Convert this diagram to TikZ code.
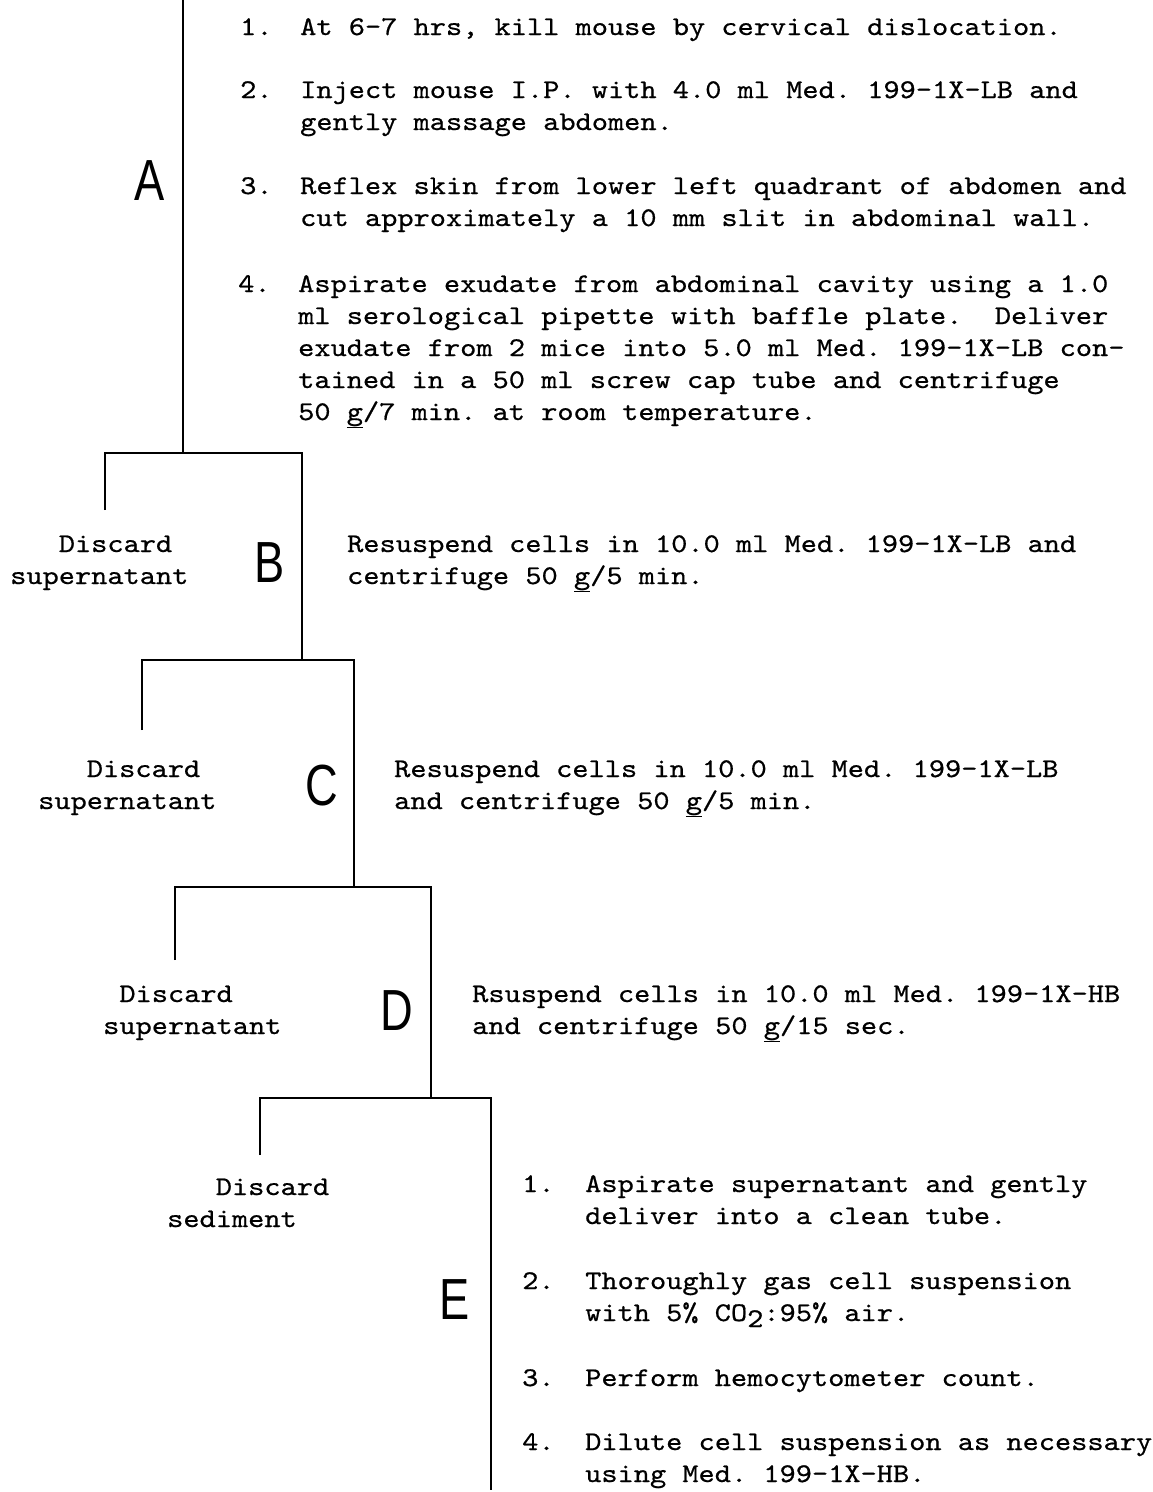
\documentclass[tikz,border=0pt]{standalone}
\usepackage{fontspec}
\newfontfamily\tw{lmmono10-regular.otf}[FakeStretch=1.143,FakeBold=0.6]
\newfontfamily\lab{Liberation Sans}[FakeStretch=0.78]
\newcommand\ml[1]{\begin{tabular}[t]{@{}l@{}}#1\end{tabular}}
\tikzset{
  txt/.style={font={\tw\fontsize{27}{32}\selectfont\frenchspacing}, inner sep=0pt, anchor=base west},
  letter/.style={font={\lab\fontsize{58}{58}\selectfont}, inner sep=0pt},
  branch/.style={line width=2.8pt, line join=miter, line cap=butt}
}
\begin{document}
\begin{tikzpicture}[x=1pt,y=-1pt]
\useasboundingbox (0,0) rectangle (1153,1492);
\fill[white] (0,0) rectangle (1153,1492);

% tree coordinates
\coordinate (top) at (183,0);
\coordinate (j1) at (183,453);
\coordinate (l1) at (105,453);
\coordinate (l1e) at (105,510);
\coordinate (r1) at (302,453);
\coordinate (j2) at (302,660);
\coordinate (l2) at (142,660);
\coordinate (l2e) at (142,730);
\coordinate (r2) at (354,660);
\coordinate (j3) at (354,887);
\coordinate (l3) at (175,887);
\coordinate (l3e) at (175,960);
\coordinate (r3) at (431,887);
\coordinate (j4) at (431,1098);
\coordinate (l4) at (260,1098);
\coordinate (l4e) at (260,1155);
\coordinate (r4) at (491,1098);
\coordinate (r4e) at (491,1490);

\draw[branch] (top) -- (j1);
\draw[branch] (l1e) -- (l1) -- (r1) -- (j2);
\draw[branch] (l2e) -- (l2) -- (r2) -- (j3);
\draw[branch] (l3e) -- (l3) -- (r3) -- (j4);
\draw[branch] (l4e) -- (l4) -- (r4) -- (r4e);

% stage letters
\node[letter] (la) at (150,181) {A};
\node[letter] (lb) at (270,563) {B};
\node[letter] (lc) at (322,786) {C};
\node[letter] (ld) at (397,1011) {D};
\node[letter] (le) at (455,1300) {E};

% block A
\node[txt] (a1n) at (240,35) {1.};
\node[txt] (a1) at (300,35) {At 6-7 hrs, kill mouse by cervical dislocation.};
\node[txt] (a2n) at (240,98) {2.};
\node[txt] (a2) at (300,98) {\ml{Inject mouse I.P. with 4.0 ml Med. 199-1X-LB and\\gently massage abdomen.}};
\node[txt] (a3n) at (240,194) {3.};
\node[txt] (a3) at (300,194) {\ml{Reflex skin from lower left quadrant of abdomen and\\cut approximately a 10 mm slit in abdominal wall.}};
\node[txt] (a4n) at (238,292) {4.};
\node[txt] (a4) at (298,292) {\ml{Aspirate exudate from abdominal cavity using a 1.0\\ml serological pipette with baffle plate.~ Deliver\\exudate from 2 mice into 5.0 ml Med. 199-1X-LB con-\\tained in a 50 ml screw cap tube and centrifuge\\50 \underline{g}/7 min. at room temperature.}};

% discard labels
\node[txt] (d1) at (10,552) {\ml{\hphantom{xxx}Discard\\supernatant}};
\node[txt] (d2) at (38,777) {\ml{\hphantom{xxx}Discard\\supernatant}};
\node[txt] (d3) at (103,1002) {\ml{\hphantom{x}Discard\\supernatant}};
\node[txt] (d4) at (167,1195) {\ml{\hphantom{xxx}Discard\\sediment}};

% B, C, D steps
\node[txt] (tb) at (347,552) {\ml{Resuspend cells in 10.0 ml Med. 199-1X-LB and\\centrifuge 50 \underline{g}/5 min.}};
\node[txt] (tc) at (394,777) {\ml{Resuspend cells in 10.0 ml Med. 199-1X-LB\\and centrifuge 50 \underline{g}/5 min.}};
\node[txt] (td) at (472,1002) {\ml{Rsuspend cells in 10.0 ml Med. 199-1X-HB\\and centrifuge 50 \underline{g}/15 sec.}};

% block E
\node[txt] (e1n) at (522,1192) {1.};
\node[txt] (e1) at (585,1192) {\ml{Aspirate supernatant and gently\\deliver into a clean tube.}};
\node[txt] (e2n) at (522,1289) {2.};
\node[txt] (e2) at (585,1289) {\ml{Thoroughly gas cell suspension\\with 5\% CO\raisebox{-6pt}{2}:95\% air.}};
\node[txt] (e3n) at (522,1386) {3.};
\node[txt] (e3) at (585,1386) {Perform hemocytometer count.};
\node[txt] (e4n) at (522,1450) {4.};
\node[txt] (e4) at (585,1450) {\ml{Dilute cell suspension as necessary\\using Med. 199-1X-HB.}};
\end{tikzpicture}
\end{document}
